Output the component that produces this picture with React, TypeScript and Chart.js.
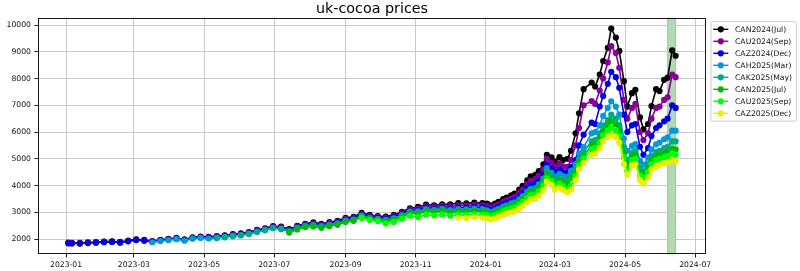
import React, { useEffect, useRef } from 'react';
import { Chart, registerables } from 'chart.js';

Chart.register(...registerables);

const title = 'uk-cocoa prices';

const dates = [
  '2023-01-03', '2023-01-06', '2023-01-13', '2023-01-20', '2023-01-27',
  '2023-02-03', '2023-02-10', '2023-02-17', '2023-02-24',
  '2023-03-03', '2023-03-10', '2023-03-17', '2023-03-24', '2023-03-31',
  '2023-04-07', '2023-04-14', '2023-04-21', '2023-04-28',
  '2023-05-05', '2023-05-12', '2023-05-19', '2023-05-26',
  '2023-06-02', '2023-06-09', '2023-06-16', '2023-06-23', '2023-06-30',
  '2023-07-07', '2023-07-14', '2023-07-21', '2023-07-28',
  '2023-08-04', '2023-08-11', '2023-08-18', '2023-08-25',
  '2023-09-01', '2023-09-08', '2023-09-15', '2023-09-22', '2023-09-29',
  '2023-10-06', '2023-10-13', '2023-10-20', '2023-10-27',
  '2023-11-03', '2023-11-10', '2023-11-17', '2023-11-24',
  '2023-12-01', '2023-12-08', '2023-12-15', '2023-12-22', '2023-12-29',
  '2024-01-02', '2024-01-05', '2024-01-09', '2024-01-12', '2024-01-16', '2024-01-19', '2024-01-23', '2024-01-26', '2024-01-30',
  '2024-02-02', '2024-02-06', '2024-02-09', '2024-02-13', '2024-02-16', '2024-02-20', '2024-02-23', '2024-02-27',
  '2024-03-01', '2024-03-05', '2024-03-08', '2024-03-12', '2024-03-15', '2024-03-19', '2024-03-22', '2024-03-26',
  '2024-04-02', '2024-04-05', '2024-04-09', '2024-04-12', '2024-04-16', '2024-04-19', '2024-04-23', '2024-04-26', '2024-04-30',
  '2024-05-03', '2024-05-07', '2024-05-10', '2024-05-14', '2024-05-17', '2024-05-21', '2024-05-24', '2024-05-28', '2024-05-31',
  '2024-06-04', '2024-06-07', '2024-06-11', '2024-06-14',
];

// CAN2024(Jul) from 2023-01-03
const CAN2024 = [
  1865, 1860, 1855, 1875, 1885, 1905, 1915, 1890, 1940,
  1990, 1965, 1925, 1970, 2005, 2040, 1985, 2060, 2090,
  2080, 2110, 2140, 2180, 2210, 2260, 2340, 2400, 2480,
  2460, 2370, 2490, 2570, 2620, 2570, 2630, 2680,
  2790, 2830, 2980, 2900, 2860, 2840, 2900, 3020, 3150,
  3200, 3290, 3260, 3300, 3300, 3340, 3330, 3360, 3340,
  3320, 3260, 3320, 3390, 3490, 3550, 3630, 3700, 3850,
  3990, 4190, 4340, 4400, 4540, 4790, 5150, 5050,
  4900, 5060, 4950, 5000, 5300, 5950, 6700, 7600,
  7850, 7700, 8150, 8650, 9150, 9870, 9530, 9030, 7900,
  6950, 7450, 7580, 6550, 6100, 6300, 6970, 7600, 7530,
  7950, 8030, 9050, 8850,
];

// CAU2024(Sep) from 2023-01-03
const CAU2024 = [
  1850, 1845, 1840, 1860, 1870, 1890, 1900, 1875, 1925,
  1975, 1950, 1910, 1955, 1990, 2025, 1970, 2045, 2075,
  2060, 2090, 2120, 2160, 2190, 2240, 2320, 2380, 2460,
  2435, 2345, 2465, 2545, 2590, 2540, 2600, 2650,
  2755, 2795, 2945, 2865, 2825, 2795, 2855, 2975, 3105,
  3140, 3230, 3200, 3240, 3220, 3260, 3250, 3280, 3260,
  3230, 3170, 3230, 3300, 3390, 3450, 3520, 3580, 3720,
  3850, 4040, 4180, 4240, 4370, 4600, 5000, 4850,
  4700, 4830, 4720, 4700, 4950, 5500, 6150, 7000,
  7160, 7050, 7550, 8000, 8600, 9210, 8950, 8400, 7200,
  6500, 6900, 7050, 6000, 5700, 5950, 6500, 6900, 6950,
  7200, 7300, 8150, 8050,
];

// CAZ2024(Dec) from 2023-01-03
const CAZ2024 = [
  1840, 1835, 1830, 1850, 1860, 1880, 1890, 1865, 1915,
  1960, 1935, 1895, 1940, 1975, 2010, 1955, 2030, 2060,
  2040, 2070, 2100, 2140, 2170, 2220, 2300, 2360, 2440,
  2410, 2320, 2440, 2520, 2560, 2510, 2570, 2620,
  2720, 2760, 2910, 2830, 2790, 2755, 2815, 2935, 3065,
  3080, 3170, 3140, 3180, 3140, 3180, 3170, 3200, 3180,
  3130, 3080, 3140, 3200, 3290, 3340, 3410, 3460, 3580,
  3710, 3890, 4010, 4060, 4180, 4410, 4770, 4630,
  4480, 4600, 4500, 4500, 4700, 4950, 5500, 5900,
  6350, 6300, 6950, 7350, 7800, 8250, 8050, 7650, 6650,
  6000, 6250, 6300, 5450, 5150, 5400, 5850, 6150, 6250,
  6400, 6500, 7000, 6900,
];

// CAH2025(Mar) from 2023-03-17
const CAH2025 = [
  1880, 1925, 1960, 1995, 1940, 2015, 2045,
  2020, 2050, 2080, 2120, 2150, 2200, 2280, 2340, 2420,
  2385, 2295, 2415, 2495, 2530, 2480, 2540, 2590,
  2685, 2725, 2875, 2795, 2755, 2715, 2775, 2895, 3025,
  3030, 3120, 3090, 3130, 3080, 3120, 3110, 3140, 3120,
  3070, 3020, 3075, 3130, 3210, 3260, 3330, 3370, 3480,
  3600, 3770, 3880, 3900, 4040, 4260, 4650, 4470,
  4330, 4440, 4350, 4330, 4550, 4800, 5200, 5450,
  5950, 6000, 6250, 6600, 6900, 7150, 6950, 6650, 5750,
  5300, 5480, 5550, 4920, 4780, 5040, 5350, 5540, 5600,
  5730, 5800, 6050, 6050,
];

// CAK2025(May) from 2023-05-12
const CAK2025 = [
  2035, 2065, 2105, 2135, 2185, 2265, 2325, 2405,
  2365, 2275, 2395, 2475, 2505, 2455, 2515, 2565,
  2655, 2695, 2845, 2765, 2725, 2680, 2740, 2860, 2990,
  2990, 3080, 3050, 3090, 3030, 3070, 3060, 3090, 3070,
  3020, 2970, 3025, 3080, 3160, 3210, 3275, 3315, 3420,
  3540, 3700, 3810, 3830, 3970, 4190, 4520, 4390,
  4200, 4300, 4200, 4180, 4400, 4650, 5000, 5250,
  5650, 5700, 5950, 6250, 6450, 6650, 6500, 6250, 5450,
  4950, 5230, 5300, 4650, 4530, 4800, 5100, 5250, 5300,
  5400, 5450, 5650, 5650,
];

// CAN2025(Jul) from 2023-07-14
const CAN2025 = [
  2240, 2360, 2440, 2470, 2420, 2480, 2530,
  2640, 2680, 2830, 2750, 2710, 2650, 2710, 2830, 2960,
  2940, 3030, 3000, 3040, 2980, 3020, 3010, 3040, 3020,
  2970, 2920, 2975, 3030, 3110, 3160, 3220, 3260, 3360,
  3480, 3630, 3740, 3760, 3900, 4120, 4400, 4290,
  4100, 4200, 4100, 4050, 4270, 4520, 4870, 5120,
  5500, 5550, 5780, 6050, 6250, 6420, 6280, 6050, 5250,
  4750, 5100, 5150, 4500, 4400, 4650, 4950, 5100, 5150,
  5200, 5250, 5380, 5350,
];

// CAU2025(Sep) from 2023-09-15
const CAU2025 = [
  2790, 2710, 2670, 2580, 2640, 2760, 2870,
  2820, 2910, 2880, 2920, 2870, 2910, 2900, 2930, 2910,
  2890, 2840, 2890, 2950, 3030, 3080, 3140, 3180, 3280,
  3390, 3540, 3640, 3660, 3790, 4000, 4270, 4170,
  3980, 4080, 3990, 3880, 3990, 4350, 4750, 5000,
  5350, 5400, 5620, 5880, 6050, 6170, 6050, 5850, 5050,
  4550, 4950, 5000, 4380, 4280, 4500, 4800, 4950, 5000,
  5050, 5100, 5200, 5150,
];

// CAZ2025(Dec) from 2023-12-08
const CAZ2025 = [
  2800, 2790, 2820, 2800,
  2780, 2730, 2770, 2830, 2900, 2950, 3000, 3040, 3130,
  3240, 3380, 3480, 3500, 3620, 3830, 4150, 4030,
  3850, 3920, 3840, 3750, 3850, 4200, 4600, 4830,
  5150, 5200, 5400, 5650, 5800, 5880, 5800, 5600, 4800,
  4400, 4750, 4800, 4200, 4080, 4300, 4600, 4700, 4780,
  4820, 4870, 4950, 4900,
];

const seriesLabels = [
  'CAN2024(Jul)', 'CAU2024(Sep)', 'CAZ2024(Dec)', 'CAH2025(Mar)',
  'CAK2025(May)', 'CAN2025(Jul)', 'CAU2025(Sep)', 'CAZ2025(Dec)',
];
const seriesValues = [CAN2024, CAU2024, CAZ2024, CAH2025, CAK2025, CAN2025, CAU2025, CAZ2025];
const seriesStarts = [
  '2023-01-03', '2023-01-03', '2023-01-03', '2023-03-17',
  '2023-05-12', '2023-07-14', '2023-09-15', '2023-12-08',
];
const seriesColors = [
  '#000000', '#880099', '#0000dd', '#0099dd',
  '#00aa88', '#00bb00', '#00ff00', '#eeee00',
];

const monthTicks = [
  '2023-01', '2023-03', '2023-05', '2023-07', '2023-09',
  '2023-11', '2024-01', '2024-03', '2024-05', '2024-07',
];
const yTicks = [2000, 3000, 4000, 5000, 6000, 7000, 8000, 9000, 10000];
const highlight = ['2024-06-07', '2024-06-14'];

const FONT = '"DejaVu Sans", sans-serif';
const POINT_R = 3.1;

const decorPlugin = {
  id: 'decor',
  beforeDraw(chart: any) {
    const { ctx, chartArea: a, scales } = chart;
    const x0 = scales.x.getPixelForValue(Date.parse(highlight[0]));
    const x1 = scales.x.getPixelForValue(Date.parse(highlight[1]));
    ctx.save();
    ctx.fillStyle = 'rgba(0,128,0,0.3)';
    ctx.fillRect(x0, a.top, x1 - x0, a.bottom - a.top);
    ctx.strokeStyle = 'rgba(0,128,0,0.3)';
    ctx.lineWidth = 1;
    ctx.strokeRect(x0, a.top, x1 - x0, a.bottom - a.top);
    ctx.restore();
  },
  afterDraw(chart: any) {
    const { ctx, chartArea: a } = chart;
    ctx.save();
    // frame
    ctx.strokeStyle = '#000';
    ctx.lineWidth = 0.9;
    const l = Math.round(a.left) + 0.5;
    const t = Math.round(a.top) + 0.5;
    const r = Math.round(a.right) - 0.5;
    const b = Math.round(a.bottom) - 0.5;
    ctx.strokeRect(l, t, r - l, b - t);
    // title
    ctx.fillStyle = '#000';
    ctx.font = `14.3px ${FONT}`;
    ctx.textAlign = 'center';
    ctx.textBaseline = 'alphabetic';
    ctx.fillText(title, (a.left + a.right) / 2, 13);
    // legend
    const bx = a.right + 5;
    const by = a.top + 3.7;
    const bw = 85.5;
    const bh = 99.5;
    ctx.beginPath();
    const rr = 2;
    ctx.moveTo(bx + rr, by);
    ctx.lineTo(bx + bw - rr, by);
    ctx.quadraticCurveTo(bx + bw, by, bx + bw, by + rr);
    ctx.lineTo(bx + bw, by + bh - rr);
    ctx.quadraticCurveTo(bx + bw, by + bh, bx + bw - rr, by + bh);
    ctx.lineTo(bx + rr, by + bh);
    ctx.quadraticCurveTo(bx, by + bh, bx, by + bh - rr);
    ctx.lineTo(bx, by + rr);
    ctx.quadraticCurveTo(bx, by, bx + rr, by);
    ctx.closePath();
    ctx.fillStyle = 'rgba(255,255,255,0.8)';
    ctx.fill();
    ctx.strokeStyle = '#cccccc';
    ctx.lineWidth = 1;
    ctx.stroke();
    ctx.font = `7.7px ${FONT}`;
    ctx.textAlign = 'left';
    ctx.textBaseline = 'middle';
    seriesLabels.forEach((lab, i) => {
      const y = a.top + 11.3 + i * 12;
      ctx.strokeStyle = seriesColors[i];
      ctx.lineWidth = 1.4;
      ctx.beginPath();
      ctx.moveTo(bx + 2.3, y);
      ctx.lineTo(bx + 17.3, y);
      ctx.stroke();
      ctx.fillStyle = seriesColors[i];
      ctx.beginPath();
      ctx.arc(bx + 9.8, y, POINT_R, 0, Math.PI * 2);
      ctx.fill();
      ctx.fillStyle = '#111';
      ctx.fillText(lab, bx + 24, y + 0.5);
    });
    ctx.restore();
  },
};

export default function App() {
  const ref = useRef<HTMLCanvasElement | null>(null);

  useEffect(() => {
    document.body.style.margin = '0';
    const canvas = ref.current;
    if (!canvas) return;

    const first = Date.parse(dates[0]);
    const last = Date.parse(dates[dates.length - 1]);
    const pad = (last - first) * 0.05;

    const datasets = seriesValues.map((vals, k) => {
      const s = dates.indexOf(seriesStarts[k]);
      return {
        label: seriesLabels[k],
        data: vals.map((y, j) => ({ x: Date.parse(dates[s + j]), y })),
        borderColor: seriesColors[k],
        backgroundColor: seriesColors[k],
        pointBackgroundColor: seriesColors[k],
        pointBorderColor: seriesColors[k],
        pointBorderWidth: 0,
        pointRadius: POINT_R,
        pointHoverRadius: POINT_R,
        borderWidth: 1.6,
        tension: 0,
        order: seriesValues.length - k,
      };
    });

    const tickFont = { family: FONT, size: 7.7 };

    const chart = new Chart(canvas, {
      type: 'line',
      data: { datasets },
      plugins: [decorPlugin],
      options: {
        animation: false,
        responsive: false,
        maintainAspectRatio: false,
        events: [],
        layout: { padding: { top: 18, right: 94, left: 0, bottom: 0 } },
        plugins: {
          legend: { display: false },
          tooltip: { enabled: false },
          title: { display: false },
        },
        scales: {
          x: {
            type: 'linear',
            min: first - pad,
            max: last + pad,
            afterBuildTicks: (scale: any) => {
              scale.ticks = monthTicks.map((m) => ({ value: Date.parse(m + '-01') }));
            },
            afterFit: (scale: any) => {
              scale.height = 17;
            },
            ticks: {
              autoSkip: false,
              maxRotation: 0,
              minRotation: 0,
              padding: 2.5,
              color: '#111',
              font: tickFont,
              callback: (v: any) => new Date(v).toISOString().slice(0, 7),
            },
            grid: {
              color: '#c8c8c8',
              lineWidth: 1,
              tickLength: 3.5,
              tickColor: '#000',
              tickWidth: 0.9,
            },
            border: { display: false },
          },
          y: {
            type: 'linear',
            min: 1440,
            max: 10262,
            afterBuildTicks: (scale: any) => {
              scale.ticks = yTicks.map((v) => ({ value: v }));
            },
            afterFit: (scale: any) => {
              scale.width = 38;
            },
            ticks: {
              padding: 3.5,
              color: '#111',
              font: tickFont,
              callback: (v: any) => String(v),
            },
            grid: {
              color: '#c8c8c8',
              lineWidth: 1,
              tickLength: 3.5,
              tickColor: '#000',
              tickWidth: 0.9,
            },
            border: { display: false },
          },
        },
      },
    } as any);

    return () => {
      chart.destroy();
    };
  }, []);

  return (
    <div style={{ width: 800, height: 271 }}>
      <canvas ref={ref} width={800} height={271} style={{ display: 'block' }} />
    </div>
  );
}
